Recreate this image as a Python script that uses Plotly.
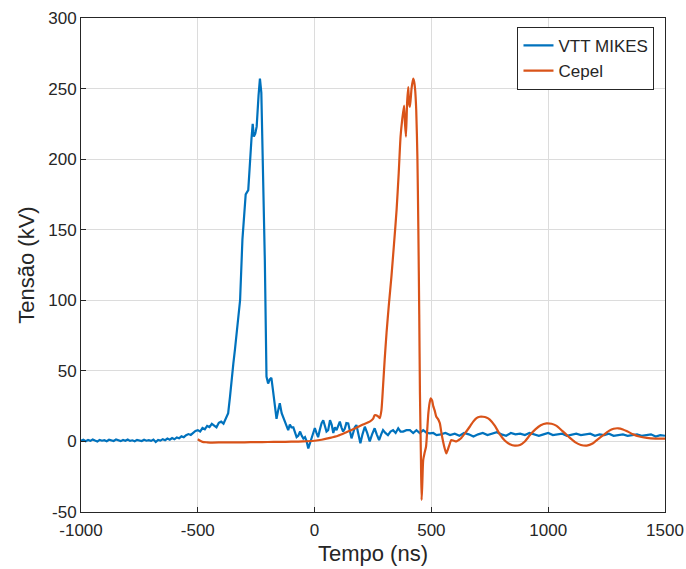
import plotly.graph_objects as go

# ---- VTT MIKES (blue) ----
vtt_t = [-1000,-990,-980,-970,-960,-950,-940,-930,-920,-910,-900,-890,-880,-870,-860,-850,-840,-830,-820,-810,
         -800,-790,-780,-770,-760,-750,-740,-730,-720,-710,-700,-690,-680,-670,-660,-650,-640,-630,-620,-610,
         -600,-590,-580,-570,-560,-550,-540,-530,-520,-510,-500,-490,-480,-470,-460,-450,-440,-430,-420,-410,
         -400,-390,-380,-370,-362,-355,-348,-341,-330,-319,-309,-300,-295,-284,-277,-270,-265,-260,-254,-248,
         -240,-234,-228,-221,-213,-206,-199,-192,-185,-178,-171,-163,-156,-149,-141,-134,-127,-120,-113,-106,
         -99,-91,-84,-77,-70,-62,-55,-48,-41,-34,-27,-20,-13,-6,1,8,15,22,30,37,
         44,51,58,66,73,80,87,94,101,108,115,122,129,136,144,151,158,165,172,179,
         186,196,205,215,225,236,246,257,266,276,285,293,303,314,325,336,347,358,368,379,
         393,408,422,436,450,465,480,494,508,522,540,560,580,600,620,640,660,680,700,720,
         740,760,780,800,820,840,860,880,900,920,940,960,980,1000,1020,1040,1060,1080,1100,1120,
         1140,1160,1180,1200,1220,1240,1260,1280,1300,1320,1340,1360,1380,1400,1420,1440,1460,1480,1500]
vtt_v = [0.5,1.2,0.2,1.0,0.4,1.3,0.6,0.0,1.1,0.5,0.9,0.2,1.2,0.6,0.3,1.4,0.7,0.2,1.0,0.5,
         1.3,0.4,0.8,0.1,1.1,0.6,0.3,1.2,0.5,0.9,0.4,1.3,-0.4,1.0,0.6,1.6,0.9,2.0,1.2,2.4,
         1.5,2.8,2.2,3.6,3.0,4.4,5.2,4.6,6.0,7.4,8.0,7.0,9.5,8.6,11.0,10.2,12.5,11.4,10.0,13.2,
         14.0,12.6,16.0,20.0,32.0,45.0,55.0,65.0,82.0,100.0,143.0,165.0,175.0,178.0,199.0,215.0,225.0,216.0,218.0,223.0,
         245.0,257.0,247.0,199.0,128.0,46.0,41.0,44.0,45.0,36.0,27.0,16.0,22.0,27.0,20.0,17.0,14.0,10.0,8.0,12.0,
         10.0,10.0,6.0,3.0,4.0,7.0,4.0,2.0,3.0,0.0,-5.0,-1.0,3.0,7.0,9.5,6.0,3.0,8.0,13.0,15.0,
         11.0,7.0,8.0,15.0,12.0,6.0,10.0,8.0,11.0,14.0,10.0,7.0,9.0,13.0,12.8,7.0,2.2,6.0,10.0,11.6,
         6.0,-1.3,5.0,10.4,6.0,0.0,5.0,9.3,5.0,1.0,5.0,8.0,6.0,4.5,7.0,8.0,6.0,9.3,7.0,7.0,
         8.0,8.0,6.0,8.0,6.0,8.0,6.0,5.7,6.0,4.5,5.0,6.0,4.5,5.5,4.0,6.0,5.0,3.5,5.0,6.0,
         4.5,5.5,6.5,5.0,4.0,6.0,5.0,5.5,4.5,6.0,5.0,4.0,5.0,6.0,4.5,5.0,5.5,4.0,5.0,5.5,
         4.5,5.0,5.5,4.0,5.0,4.5,5.5,4.0,4.5,5.0,4.0,4.5,5.0,4.0,4.5,5.0,3.5,4.5,4.0]

# ---- Cepel (orange) ----
cep_t = [-500,-490,-480,-460,-440,-400,-350,-300,-250,-200,-150,-100,-50,0,30,66,100,136,170,207,
         236,250,257,270,279,286,293,300,308,318,329,340,351,360,368,375,383,387,391,396,
         401,404,408,415,422,426,430,435,440,444,448,451,455,458,461,465,471,477,482,487,
         492,497,503,508,514,521,528,536,543,550,557,564,570,578,585,596,607,617,628,645,
         664,679,693,707,721,735,750,772,793,815,836,857,879,900,922,945,968,993,1014,1036,
         1060,1080,1093,1115,1140,1165,1190,1212,1236,1260,1280,1300,1320,1340,1364,1390,1422,1460,1500]
cep_v = [1.5,0.5,-0.3,-0.6,-0.8,-0.7,-0.6,-0.6,-0.5,-0.4,-0.3,-0.2,0.0,0.5,1.2,2.5,4.0,6.5,9.0,12.0,
         14.0,16.0,18.5,18.0,16.5,22.0,39.0,58.0,77.0,97.0,117.0,140.0,164.0,190.0,216.0,228.0,238.0,225.0,216.0,240.0,
         251.0,240.0,237.0,250.0,257.0,255.0,250.0,235.0,202.0,152.0,90.0,34.0,-10.0,-41.5,-30.0,-13.0,-8.0,-3.8,8.0,20.0,
         27.0,30.5,29.0,25.0,22.0,17.5,16.0,13.0,6.0,0.0,-5.0,-8.5,-6.0,-2.0,1.0,0.5,0.0,1.0,2.5,6.0,
         10.4,14.0,16.5,17.5,17.5,17.0,15.5,11.0,5.0,0.5,-2.0,-3.0,-2.5,0.0,4.5,8.5,11.5,12.8,12.5,11.0,
         7.5,4.5,2.5,-0.5,-2.5,-3.0,-1.5,1.5,4.5,7.5,9.0,9.3,8.5,7.0,5.0,3.5,2.5,2.0,2.0]

x_ticks = [-1000, -500, 0, 500, 1000, 1500]
y_ticks = [-50, 0, 50, 100, 150, 200, 250, 300]

FONT = "Liberation Sans, Arial"

fig = go.Figure()
fig.add_trace(go.Scatter(x=vtt_t, y=vtt_v, mode="lines", name="VTT MIKES",
                         line=dict(color="#0072BD", width=2.2)))
fig.add_trace(go.Scatter(x=cep_t, y=cep_v, mode="lines", name="Cepel",
                         line=dict(color="#D95319", width=2.2, shape="spline", smoothing=0.6)))

axis_common = dict(showgrid=True, gridcolor="#DCDCDC", gridwidth=1,
                   showline=True, linecolor="#262626", linewidth=1, mirror=True,
                   ticks="inside", ticklen=5, tickcolor="#262626", zeroline=False,
                   automargin=False,
                   tickfont=dict(size=17, color="#262626", family=FONT))

fig.update_xaxes(range=[-1000, 1500], tickvals=x_ticks, ticktext=[str(v) for v in x_ticks],
                 ticklabelstandoff=3,
                 title=dict(text="Tempo (ns)", font=dict(size=22, color="#262626", family=FONT), standoff=6),
                 **axis_common)
fig.update_yaxes(range=[-50, 300], tickvals=y_ticks, ticktext=[str(v) for v in y_ticks],
                 title=dict(text="Tensão (kV)", font=dict(size=22, color="#262626", family=FONT), standoff=7),
                 **axis_common)

fig.update_layout(
    width=686, height=569,
    margin=dict(l=81, r=21, t=18, b=57),
    plot_bgcolor="white", paper_bgcolor="white",
    font=dict(family=FONT, color="#262626"),
    legend=dict(x=0.982, y=0.982, xanchor="right", yanchor="top",
                bgcolor="white", bordercolor="#262626", borderwidth=1,
                font=dict(size=17, color="#262626", family=FONT), tracegroupgap=0,
                itemwidth=30),
    showlegend=True,
)

fig.write_html("out.html", config={"displayModeBar": False},
               post_script="document.body.style.margin='0';document.body.style.overflow='hidden';")
